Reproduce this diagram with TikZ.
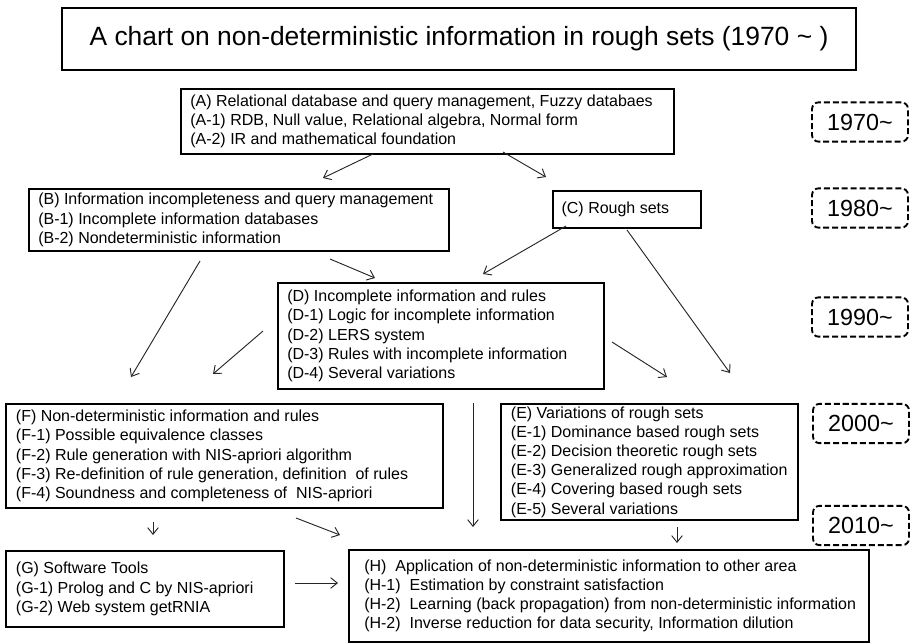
\documentclass[tikz,border=0pt]{standalone}
\usepackage{fontspec}
\setmainfont{Liberation Sans}
\usetikzlibrary{arrows.meta}

\begin{document}
\begin{tikzpicture}[x=0.75pt, y=-0.75pt,
        every node/.style={font=\fontsize{12}{14.4}\selectfont},
        box/.style={draw, line width=1.5pt, anchor=north west, inner sep=0pt},
        txt/.style={anchor=west, align=left, inner sep=0pt},
        yearbox/.style={draw, dash pattern=on 4.5pt off 2.2pt, line width=1.4pt,
            rounded corners=5pt, minimum width=72pt, minimum height=29.5pt,
            font=\fontsize{17.5}{20}\selectfont},
        arr/.style={-{Straight Barb[length=5pt,width=8pt]}, line width=0.7pt, black!85}
    ]
    \useasboundingbox (0,0) rectangle (912,643);

    % ============ title ============
    \node[draw, line width=1.5pt, minimum width=595.5pt, minimum height=46.5pt,
        font=\fontsize{19.8}{22}\selectfont] (title) at (459,39)
    {A chart on non-deterministic information in rough sets (1970 \textasciitilde\ )};

    % ============ boxes ============
    \node[box, minimum width=369.75pt, minimum height=48.75pt] (A) at (180,88) {};
    \node[txt] (A-t) at ([xshift=7.5pt]A.west)
    {(A) Relational database and query management, Fuzzy databaes\\
        (A-1) RDB, Null value, Relational algebra, Normal form\\
        (A-2) IR and mathematical foundation};

    \node[box, minimum width=315pt, minimum height=46.5pt] (B) at (28,188) {};
    \node[txt] (B-t) at ([xshift=7.5pt]B.west)
    {(B) Information incompleteness and query management\\
        (B-1) Incomplete information databases\\
        (B-2) Nondeterministic information};

    \node[box, minimum width=111pt, minimum height=27.75pt] (C) at (552,190) {};
    \node[txt] (C-t) at ([xshift=7pt]C.west) {(C) Rough sets};

    \node[box, minimum width=244.5pt, minimum height=79.5pt] (D) at (277,282) {};
    \node[txt] (D-t) at ([xshift=7.5pt]D.west)
    {(D) Incomplete information and rules\\
        (D-1) Logic for incomplete information\\
        (D-2) LERS system\\
        (D-3) Rules with incomplete information\\
        (D-4) Several variations};

    \node[box, minimum width=222.75pt, minimum height=87pt] (E) at (500,403) {};
    \node[txt] (E-t) at ([xshift=8pt]E.west)
    {(E) Variations of rough sets\\
        (E-1) Dominance based rough sets\\
        (E-2) Decision theoretic rough sets\\
        (E-3) Generalized rough approximation\\
        (E-4) Covering based rough sets\\
        (E-5) Several variations};

    \node[box, minimum width=327.75pt, minimum height=78pt] (F) at (5,403) {};
    \node[txt] (F-t) at ([xshift=8pt]F.west)
    {(F) Non-deterministic information and rules\\
        (F-1) Possible equivalence classes\\
        (F-2) Rule generation with NIS-apriori algorithm\\
        (F-3) Re-definition of rule generation, definition\ \ of rules\\
        (F-4) Soundness and completeness of\ \ NIS-apriori};

    \node[box, minimum width=208.5pt, minimum height=57pt] (G) at (5,550) {};
    \node[txt] (G-t) at ([xshift=8pt]G.west)
    {(G) Software Tools\\
        (G-1) Prolog and C by NIS-apriori\\
        (G-2) Web system getRNIA};

    \node[box, minimum width=390pt, minimum height=69pt] (H) at (348,549) {};
    \node[txt] (H-t) at ([xshift=12pt]H.west)
    {(H)\ \ Application of non-deterministic information to other area\\
        (H-1)\ \ Estimation by constraint satisfaction\\
        (H-2)\ \ Learning (back propagation) from non-deterministic information\\
        (H-2)\ \ Inverse reduction for data security, Information dilution};

    % ============ years ============
    \node[yearbox] (y1970) at (860,122) {1970\textasciitilde};
    \node[yearbox] (y1980) at (860,208) {1980\textasciitilde};
    \node[yearbox] (y1990) at (860,317) {1990\textasciitilde};
    \node[yearbox] (y2000) at (861,423.5) {2000\textasciitilde};
    \node[yearbox] (y2010) at (861,525.5) {2010\textasciitilde};

    % ============ arrows (free ends) ============
    \coordinate (ab0) at (373,154); \coordinate (ab1) at (323,178);
    \coordinate (ac0) at (503,152); \coordinate (ac1) at (546,177);
    \coordinate (bd0) at (330,259); \coordinate (bd1) at (375,278);
    \coordinate (bf0) at (200,261); \coordinate (bf1) at (131,377);
    \coordinate (cd0) at (566,226); \coordinate (cd1) at (483,274);
    \coordinate (ce0) at (627,230); \coordinate (ce1) at (730,373);
    \coordinate (df0) at (263,331); \coordinate (df1) at (213,374);
    \coordinate (de0) at (612,342); \coordinate (de1) at (667,377);
    \coordinate (dh0) at (473,403); \coordinate (dh1) at (473,527);
    \coordinate (eh0) at (677,527); \coordinate (eh1) at (677,543);
    \coordinate (fg0) at (153,522); \coordinate (fg1) at (153,535);
    \coordinate (fh0) at (296,518); \coordinate (fh1) at (340,535);
    \coordinate (gh0) at (295,583); \coordinate (gh1) at (338,583);

    \foreach \a/\b in {ab0/ab1, ac0/ac1, bd0/bd1, bf0/bf1, cd0/cd1, ce0/ce1,
            df0/df1, de0/de1, dh0/dh1, eh0/eh1, fg0/fg1, fh0/fh1, gh0/gh1}
    \draw[arr] (\a) -- (\b);
\end{tikzpicture}
\end{document}
